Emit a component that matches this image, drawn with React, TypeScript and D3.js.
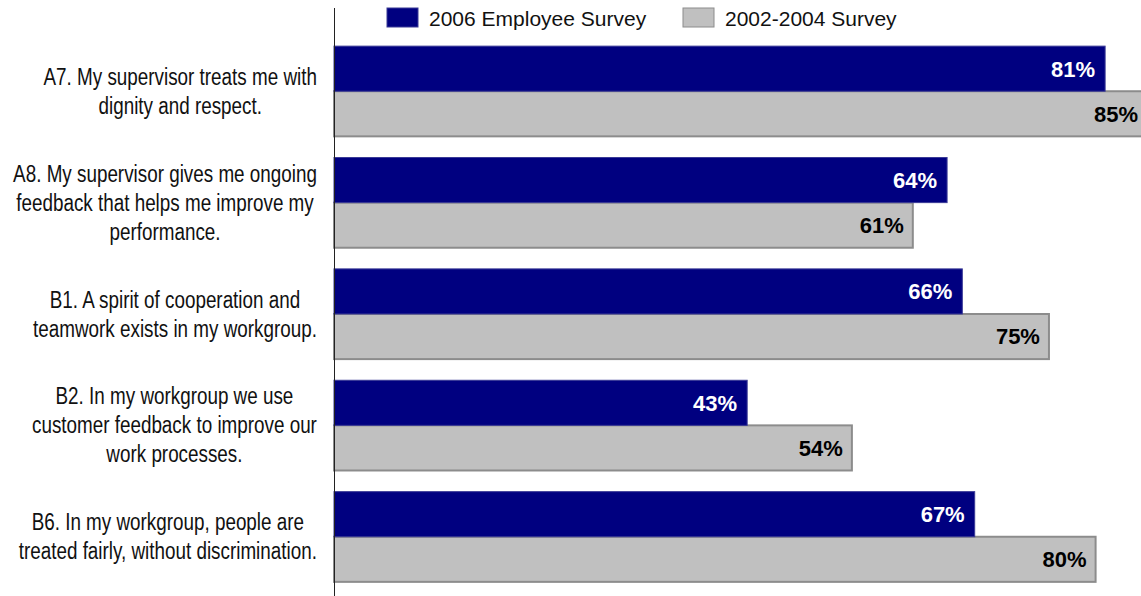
import React, { useEffect, useRef } from "react";
import * as d3 from "d3";

const categories = ["A7", "A8", "B1", "B2", "B6"];
const categoryLines = [
  ["A7. My supervisor treats me with", "dignity and respect."],
  ["A8. My supervisor gives me ongoing", "feedback that helps me improve my", "performance."],
  ["B1. A spirit of cooperation and", "teamwork exists in my workgroup."],
  ["B2. In my workgroup we use", "customer feedback to improve our", "work processes."],
  ["B6. In my workgroup, people are", "treated fairly, without discrimination."],
];
const series2006 = [81.0, 64.4, 66.0, 43.4, 67.3];
const series2002 = [85.4, 60.8, 75.1, 54.4, 80.0];
const seriesNames = ["2006 Employee Survey", "2002-2004 Survey"];

const W = 1141;
const H = 596;

export default function App() {
  const ref = useRef<SVGSVGElement>(null);

  useEffect(() => {
    document.body.style.margin = "0";
    const svg = d3.select(ref.current);
    svg.selectAll("*").remove();

    const x = d3.scaleLinear().domain([0, 100]).range([334, 334 + 952]);
    const y = d3
      .scaleBand<string>()
      .domain(categories)
      .range([35, 593])
      .paddingInner(0.19)
      .paddingOuter(0.1);
    const bw = y.bandwidth();
    const half = bw / 2;

    const g = svg.append("g");

    // gray bars (2002-2004)
    categories.forEach((c, i) => {
      const y0 = (y(c) as number) + half;
      g.append("rect")
        .attr("x", x(0))
        .attr("y", y0)
        .attr("width", x(series2002[i]) - x(0))
        .attr("height", half)
        .attr("fill", "#c0c0c0")
        .attr("stroke", "#8c8c8c")
        .attr("stroke-width", 2);
      g.append("text")
        .attr("x", x(series2002[i]) - 9)
        .attr("y", y0 + half / 2)
        .attr("dy", "0.36em")
        .attr("text-anchor", "end")
        .attr("font-family", "Liberation Sans, Arial, sans-serif")
        .attr("font-weight", "bold")
        .attr("font-size", 22)
        .attr("fill", "#000")
        .text(Math.round(series2002[i]) + "%");
    });

    // navy bars (2006)
    categories.forEach((c, i) => {
      const y0 = y(c) as number;
      g.append("rect")
        .attr("x", x(0))
        .attr("y", y0)
        .attr("width", x(series2006[i]) - x(0))
        .attr("height", half)
        .attr("fill", "#000080")
        .attr("stroke", "#3a3a96")
        .attr("stroke-width", 1);
      g.append("text")
        .attr("x", x(series2006[i]) - 10)
        .attr("y", y0 + half / 2)
        .attr("dy", "0.36em")
        .attr("text-anchor", "end")
        .attr("font-family", "Liberation Sans, Arial, sans-serif")
        .attr("font-weight", "bold")
        .attr("font-size", 22)
        .attr("fill", "#fff")
        .text(Math.round(series2006[i]) + "%");
    });

    // axis line
    svg
      .append("line")
      .attr("x1", 334.5)
      .attr("x2", 334.5)
      .attr("y1", 8)
      .attr("y2", H)
      .attr("stroke", "#222")
      .attr("stroke-width", 1);

    // category labels (condensed sans, like Arial Narrow)
    const lineH = 29;
    const squeeze = 0.82;
    categories.forEach((c, i) => {
      const cy = (y(c) as number) + bw / 2;
      const lines = categoryLines[i];
      const lg = svg.append("g");
      const t = lg
        .append("text")
        .attr("font-family", "Liberation Sans, Arial, sans-serif")
        .attr("font-size", 23)
        .attr("fill", "#111")
        .attr("text-anchor", "middle");
      const tspans = lines.map((l, k) =>
        t
          .append("tspan")
          .attr("x", 0)
          .attr("y", cy + (k - (lines.length - 1) / 2) * lineH)
          .attr("dy", "0.35em")
          .text(l)
      );
      let maxW = 0;
      tspans.forEach((ts) => {
        const n = ts.node() as SVGTSpanElement;
        maxW = Math.max(maxW, n.getComputedTextLength());
      });
      const cx = 317 - (maxW * squeeze) / 2;
      lg.attr("transform", `translate(${cx},0) scale(${squeeze},1)`);
    });

    // legend
    const legendX = [387, 683];
    const colors = ["#000080", "#c0c0c0"];
    const strokes = ["#3a3a96", "#8c8c8c"];
    seriesNames.forEach((n, i) => {
      svg
        .append("rect")
        .attr("x", legendX[i])
        .attr("y", 8)
        .attr("width", 31)
        .attr("height", 19)
        .attr("fill", colors[i])
        .attr("stroke", strokes[i])
        .attr("stroke-width", 1);
      svg
        .append("text")
        .attr("x", legendX[i] + 42)
        .attr("y", 18)
        .attr("dy", "0.36em")
        .attr("font-family", "Liberation Sans, Arial, sans-serif")
        .attr("font-size", 21)
        .attr("fill", "#111")
        .text(n);
    });
  }, []);

  return <svg ref={ref} width={W} height={H} style={{ display: "block" }} />;
}
